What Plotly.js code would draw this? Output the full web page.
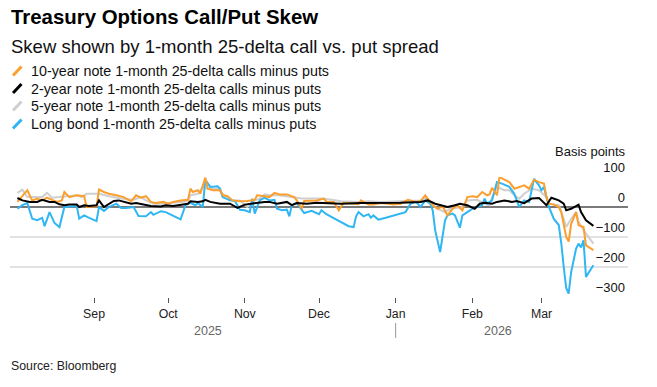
<!DOCTYPE html>
<html><head><meta charset="utf-8">
<script src="https://cdn.plot.ly/plotly-3.0.1.min.js"></script>
<style>html,body{margin:0;padding:0;background:#fff}#chart{width:657px;height:387px}</style>
</head><body><div id="chart"></div>
<script>
const FONT = "Liberation Sans, Arial, Helvetica, sans-serif";

const seriesNames = [
  "10-year note 1-month 25-delta calls minus puts",
  "2-year note 1-month 25-delta calls minus puts",
  "5-year note 1-month 25-delta calls minus puts",
  "Long bond 1-month 25-delta calls minus puts"
];
const seriesColors = ["#fb9f2f", "#000000", "#cfcfcf", "#2fb6f3"];

const tenYearDates = ["2025-08-01","2025-08-05","2025-08-07","2025-08-09","2025-08-11","2025-08-13","2025-08-15","2025-08-17","2025-08-19","2025-08-20","2025-08-22","2025-08-25","2025-08-28","2025-08-29",
"2025-09-02","2025-09-03","2025-09-05","2025-09-07","2025-09-10","2025-09-13","2025-09-16","2025-09-18","2025-09-20","2025-09-22","2025-09-24","2025-09-26","2025-09-29",
"2025-10-01","2025-10-03","2025-10-06","2025-10-09","2025-10-10","2025-10-11","2025-10-13","2025-10-14","2025-10-16","2025-10-17","2025-10-19","2025-10-22","2025-10-23","2025-10-25","2025-10-27","2025-10-30",
"2025-11-02","2025-11-05","2025-11-06","2025-11-09","2025-11-11","2025-11-13","2025-11-15","2025-11-18","2025-11-21","2025-11-22","2025-11-24","2025-11-25","2025-11-28","2025-11-30",
"2025-12-03","2025-12-04","2025-12-07","2025-12-09","2025-12-11","2025-12-14","2025-12-17","2025-12-18","2025-12-21","2025-12-23","2025-12-26","2025-12-29","2025-12-31",
"2026-01-03","2026-01-06","2026-01-09","2026-01-11","2026-01-13","2026-01-14","2026-01-16","2026-01-18","2026-01-20","2026-01-22","2026-01-24","2026-01-26","2026-01-28","2026-01-29","2026-01-30",
"2026-02-01","2026-02-03","2026-02-05","2026-02-07","2026-02-08","2026-02-09","2026-02-11","2026-02-12","2026-02-14","2026-02-16","2026-02-18","2026-02-20","2026-02-22","2026-02-24","2026-02-26","2026-02-28",
"2026-03-02","2026-03-03","2026-03-04","2026-03-06","2026-03-08","2026-03-09","2026-03-10","2026-03-11","2026-03-12","2026-03-13","2026-03-15","2026-03-16","2026-03-18","2026-03-19","2026-03-22"];
const tenYearValues = [17,56,22,28,22,31,24,17,22,50,33,39,36,0,
2,58,50,44,39,33,19,39,31,36,17,13,17,
11,17,22,24,61,50,56,44,98,61,56,56,39,36,22,19,
20,24,39,36,33,47,42,42,33,22,-6,20,22,22,
28,17,17,-11,14,11,9,22,8,8,13,11,8,
11,24,17,19,39,28,6,-6,2,-28,-6,6,-11,11,33,
36,33,50,39,42,64,39,100,91,83,61,67,72,61,91,83,
78,33,11,8,0,-17,-61,-100,-115,-56,-17,-61,-67,-128,-144];

const twoYearDates = ["2025-08-01","2025-08-03","2025-08-06","2025-08-09","2025-08-11","2025-08-14","2025-08-16","2025-08-18","2025-08-20","2025-08-22","2025-08-25","2025-08-26","2025-08-28","2025-08-30",
"2025-09-02","2025-09-03","2025-09-05","2025-09-07","2025-09-09","2025-09-11","2025-09-13","2025-09-16","2025-09-18","2025-09-21","2025-09-24","2025-09-28","2025-09-30",
"2025-10-03","2025-10-06","2025-10-09","2025-10-10","2025-10-13","2025-10-15","2025-10-16","2025-10-18","2025-10-22","2025-10-26","2025-10-29",
"2025-11-01","2025-11-05","2025-11-09","2025-11-11","2025-11-14","2025-11-18","2025-11-20","2025-11-22","2025-11-26","2025-11-30",
"2025-12-06","2025-12-10","2025-12-18","2025-12-26",
"2026-01-03","2026-01-11","2026-01-14","2026-01-17","2026-01-19","2026-01-22","2026-01-25","2026-01-27","2026-01-30",
"2026-02-02","2026-02-04","2026-02-06","2026-02-09","2026-02-11","2026-02-14","2026-02-17","2026-02-19","2026-02-22","2026-02-25","2026-02-28",
"2026-03-01","2026-03-03","2026-03-05","2026-03-08","2026-03-10","2026-03-11","2026-03-13","2026-03-16","2026-03-17","2026-03-19","2026-03-22"];
const twoYearValues = [30,22,17,17,24,17,17,9,6,8,8,0,6,3,
6,22,0,11,20,22,17,11,13,9,3,2,6,
3,8,11,19,17,19,24,17,11,11,-3,
8,13,17,17,11,17,6,13,11,14,
13,11,13,13,
14,17,22,11,6,0,6,11,6,
-6,11,14,11,17,22,17,20,13,28,30,
22,6,31,22,11,-11,-6,8,-17,-44,-63];

const fiveYearDates = ["2025-08-01","2025-08-03","2025-08-05","2025-08-07","2025-08-11","2025-08-13","2025-08-15","2025-08-18","2025-08-21","2025-08-25","2025-08-27","2025-08-29",
"2025-09-02","2025-09-03","2025-09-07","2025-09-12","2025-09-17","2025-09-20","2025-09-22","2025-09-25","2025-09-29",
"2025-10-03","2025-10-06","2025-10-09","2025-10-10","2025-10-13","2025-10-15","2025-10-17","2025-10-21","2025-10-23","2025-10-25","2025-10-27","2025-10-30",
"2025-11-02","2025-11-05","2025-11-07","2025-11-09","2025-11-11","2025-11-15","2025-11-21","2025-11-24","2025-11-28",
"2025-12-02","2025-12-06","2025-12-10","2025-12-17","2025-12-21","2025-12-26","2025-12-31",
"2026-01-06","2026-01-11","2026-01-13","2026-01-15","2026-01-18","2026-01-21","2026-01-23","2026-01-28","2026-01-30",
"2026-02-03","2026-02-06","2026-02-08","2026-02-09","2026-02-11","2026-02-14","2026-02-16","2026-02-18","2026-02-20","2026-02-22","2026-02-25","2026-02-28",
"2026-03-02","2026-03-03","2026-03-04","2026-03-08","2026-03-10","2026-03-11","2026-03-13","2026-03-15","2026-03-16","2026-03-19","2026-03-22"];
const fiveYearValues = [47,58,33,33,33,47,31,33,36,39,33,44,
44,44,36,28,24,33,22,11,11,
13,17,19,39,44,67,61,61,44,33,22,22,
0,22,28,42,39,39,33,28,28,
28,24,19,17,19,17,19,
22,22,31,11,-6,-17,-6,0,22,
24,11,6,33,67,56,56,39,28,44,61,56,
39,33,11,6,-39,-67,-39,-17,-50,-89,-122];

const longBondDates = ["2025-08-01","2025-08-03","2025-08-05","2025-08-07","2025-08-09","2025-08-11","2025-08-12","2025-08-14","2025-08-16","2025-08-18","2025-08-20","2025-08-23","2025-08-25","2025-08-26","2025-08-28","2025-08-30",
"2025-09-02","2025-09-03","2025-09-05","2025-09-07","2025-09-10","2025-09-12","2025-09-14","2025-09-17","2025-09-19","2025-09-22","2025-09-24","2025-09-25","2025-09-28","2025-09-30",
"2025-10-03","2025-10-06","2025-10-08","2025-10-10","2025-10-12","2025-10-13","2025-10-15","2025-10-16","2025-10-18","2025-10-21","2025-10-22","2025-10-23","2025-10-26","2025-10-28","2025-10-30",
"2025-11-01","2025-11-03","2025-11-04","2025-11-05","2025-11-07","2025-11-09","2025-11-11","2025-11-13","2025-11-14","2025-11-16","2025-11-18","2025-11-19","2025-11-20","2025-11-22","2025-11-25","2025-11-28",
"2025-12-01","2025-12-02","2025-12-04","2025-12-06","2025-12-10","2025-12-13","2025-12-15","2025-12-16","2025-12-17","2025-12-19","2025-12-21","2025-12-22","2025-12-23","2025-12-25","2025-12-28","2025-12-31",
"2026-01-03","2026-01-05","2026-01-07","2026-01-09","2026-01-10","2026-01-11","2026-01-13","2026-01-15","2026-01-16","2026-01-17","2026-01-19","2026-01-21","2026-01-22","2026-01-24","2026-01-25","2026-01-27","2026-01-28","2026-01-30",
"2026-02-01","2026-02-03","2026-02-05","2026-02-06","2026-02-07","2026-02-09","2026-02-11","2026-02-13","2026-02-16","2026-02-18","2026-02-20","2026-02-22","2026-02-24","2026-02-26","2026-02-28",
"2026-03-01","2026-03-02","2026-03-04","2026-03-06","2026-03-08","2026-03-09","2026-03-10","2026-03-11","2026-03-12","2026-03-13","2026-03-15","2026-03-16","2026-03-17","2026-03-18","2026-03-19","2026-03-22"];
const longBondValues = [-6,6,13,-39,-44,-36,-64,-17,-53,-67,0,2,3,-39,-28,-36,
-47,0,-13,0,11,-3,-3,0,-30,-31,-17,-26,-14,-17,
-28,-41,6,14,6,13,0,91,67,69,61,33,22,20,-9,
-11,-17,28,-22,22,31,22,24,-6,-11,-9,-31,6,13,-20,-13,
-24,-11,-24,-33,-50,-64,-67,-31,-17,-31,-24,-36,-28,-42,-36,-28,
-22,-17,11,17,11,0,22,11,-11,-78,-150,-44,-28,-22,-28,-69,-28,-17,
-6,0,6,28,11,22,83,78,67,44,0,22,17,94,72,
56,67,0,-40,-60,-120,-200,-270,-289,-217,-139,-122,-135,-111,-233,-194];

const monthTickDates = ["2025-09-01","2025-10-01","2025-11-01","2025-12-01","2026-01-01","2026-02-01","2026-03-01"];
const monthTickLabels = ["Sep","Oct","Nov","Dec","Jan","Feb","Mar"];
const yearLabels = ["2025","2026"];
const yTickValues = [-300,-200,-100,0,100];

const seriesData = [
  {x: tenYearDates, y: tenYearValues},
  {x: twoYearDates, y: twoYearValues},
  {x: fiveYearDates, y: fiveYearValues},
  {x: longBondDates, y: longBondValues}
];
const drawOrder = [2, 3, 0, 1];
const traces = drawOrder.map(i => ({
  type: "scatter", mode: "lines", name: seriesNames[i],
  x: seriesData[i].x, y: seriesData[i].y,
  line: {color: seriesColors[i], width: 2},
  hoverinfo: "skip", showlegend: false
}));

// layout helpers: plot area spans x 10..628 px, y 177..297 px
const PL = 10, PW = 618, PT = 177, PH = 120;
const px = v => (v - PL) / PW;
const py = v => (PT + PH - v) / PH;

const annotations = [
  {text: "<b>Treasury Options Call/Put Skew</b>", x: px(9), y: py(17), xref: "paper", yref: "paper", xanchor: "left", yanchor: "middle", showarrow: false, font: {family: FONT, size: 20.4, color: "#000"}},
  {text: "Skew shown by 1-month 25-delta call vs. put spread", x: px(9), y: py(46), xref: "paper", yref: "paper", xanchor: "left", yanchor: "middle", showarrow: false, font: {family: FONT, size: 18.5, color: "#111"}},
  {text: "Basis points", x: 1, y: py(151), xref: "paper", yref: "paper", xanchor: "right", yanchor: "middle", showarrow: false, font: {family: FONT, size: 13, color: "#111"}},
  {text: yearLabels[0], x: px(208), y: py(331), xref: "paper", yref: "paper", xanchor: "center", yanchor: "middle", showarrow: false, font: {family: FONT, size: 12.5, color: "#666"}},
  {text: yearLabels[1], x: px(498), y: py(331), xref: "paper", yref: "paper", xanchor: "center", yanchor: "middle", showarrow: false, font: {family: FONT, size: 12.5, color: "#666"}},
  {text: "Source: Bloomberg", x: px(9), y: py(366), xref: "paper", yref: "paper", xanchor: "left", yanchor: "middle", showarrow: false, font: {family: FONT, size: 12.3, color: "#222"}}
];
const legendRows = [71, 88.5, 106, 124];
const shapes = [
  {type: "line", xref: "x", yref: "paper", x0: monthTickDates[4], x1: monthTickDates[4], y0: py(323), y1: py(338), line: {color: "#999", width: 1}}
];
seriesNames.forEach((name, i) => {
  const c = legendRows[i];
  annotations.push({text: name, x: px(29), y: py(c), xref: "paper", yref: "paper", xanchor: "left", yanchor: "middle", showarrow: false, font: {family: FONT, size: 14.3, color: "#111"}});
  shapes.push({type: "line", xref: "paper", yref: "paper", x0: px(13), y0: py(c + 4.5), x1: px(21.5), y1: py(c - 4.5), line: {color: seriesColors[i], width: 3}});
});

const layout = {
  width: 657, height: 387,
  margin: {l: PL, r: 657 - PL - PW, t: PT, b: 387 - PT - PH, pad: 0},
  paper_bgcolor: "#fff", plot_bgcolor: "#fff",
  font: {family: FONT, size: 12, color: "#222"},
  showlegend: false,
  xaxis: {
    type: "date", range: ["2025-07-29", "2026-04-05"],
    tickvals: monthTickDates, ticktext: monthTickLabels,
    ticks: "outside", ticklen: 5, tickwidth: 1, tickcolor: "#555",
    showgrid: false, zeroline: false, showline: false,
    tickfont: {family: FONT, size: 12.3, color: "#222"}, fixedrange: true
  },
  yaxis: {
    range: [-300, 100], side: "right",
    tickvals: yTickValues, ticks: "",
    ticklabelposition: "inside top", ticklabeloverflow: "allow",
    showgrid: true, gridcolor: "#e2e2e2", gridwidth: 1.5,
    zeroline: true, zerolinecolor: "#7a7a7a", zerolinewidth: 2,
    showline: false,
    tickfont: {family: FONT, size: 13, color: "#111"}, fixedrange: true
  },
  annotations: annotations,
  shapes: shapes
};

Plotly.newPlot("chart", traces, layout, {staticPlot: true, displayModeBar: false});
</script>
</body></html>
